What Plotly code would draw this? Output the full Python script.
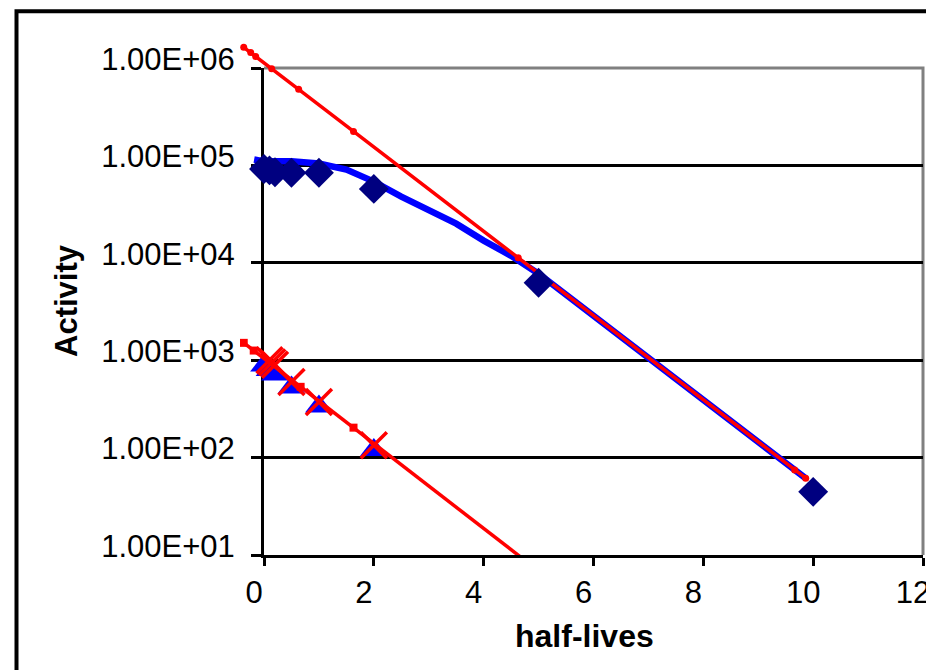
import plotly.graph_objects as go

# ---------------- data ----------------
# upper red fitted line (daughter, equilibrium)
fit_hi_x = [-0.369, -0.242, -0.151, 0.140, 0.631, 1.630, 4.629, 9.664, 9.864]
fit_hi_y = [1.63e6, 1.44e6, 1.31e6, 9.84e5, 6.04e5, 2.23e5, 1.13e4, 74.8, 61.5]

# thick blue curve
blue_x = [-0.18, 0, 0.5, 1, 1.5, 2, 2.5, 3, 3.5, 4, 4.5, 5, 6, 7, 8, 9, 9.86]
blue_y = [1.15e5, 1.10e5, 1.10e5, 1.045e5, 9.06e4, 6.82e4, 4.78e4, 3.52e4, 2.52e4,
          1.69e4, 1.18e4, 7.73e3, 2.86e3, 1.06e3, 391, 144, 61.5]

# navy diamonds
diam_x = [0, 0.1, 0.2, 0.5, 1, 2, 5, 10]
diam_y = [9.2e4, 8.9e4, 8.5e4, 8.4e4, 8.4e4, 5.74e4, 6.24e3, 44.5]

# blue triangles
tri_x = [0, 0.1, 0.2, 0.5, 1, 2]
tri_y = [880, 795, 712, 523, 334, 120]

# red crosses
cross_x = [0.1, 0.15, 0.2, 0.5, 1, 2]
cross_y = [1000, 950, 900, 598, 372, 134]

# lower red fitted line
fit_lo_x = [-0.369, -0.187, 0.667, 1.630, 4.847]
fit_lo_y = [1507, 1256, 533, 203, 8.0]

x_ticks = [0, 2, 4, 6, 8, 10, 12]
y_ticks = [1e1, 1e2, 1e3, 1e4, 1e5, 1e6]
y_ticktext = ["1.00E+01", "1.00E+02", "1.00E+03", "1.00E+04", "1.00E+05", "1.00E+06"]

# ---------------- layout geometry ----------------
W, H = 926, 670
ML, MR, MT, MB = 240, 3, 40, 115
PLOT_L, PLOT_T = 264, 68
paper_w = W - ML - MR
paper_h = H - MT - MB


def px_x(px):
    return (px - ML) / paper_w


def px_y(py):
    return (H - MB - py) / paper_h


x_dom = [px_x(PLOT_L), 1]
y_dom = [0, px_y(PLOT_T)]
X_RANGE = [0, 12]
Y_RANGE = [1, 6]
x_per_px = (X_RANGE[1] - X_RANGE[0]) / (paper_w * (x_dom[1] - x_dom[0]))
y_per_px = (Y_RANGE[1] - Y_RANGE[0]) / (paper_h * (y_dom[1] - y_dom[0]))
x2_range = [X_RANGE[0] - (PLOT_L - ML) * x_per_px, X_RANGE[1]]
y2_range = [Y_RANGE[0], Y_RANGE[1] + (PLOT_T - MT) * y_per_px]

FONT = "Liberation Sans, Arial, sans-serif"
RED = "#FF0000"
BLUE = "#0000FF"
NAVY = "#000080"

fig = go.Figure()
# empty trace so that the main (axes / grid) subplot is created
fig.add_trace(go.Scatter(x=[None], y=[None], xaxis="x", yaxis="y",
                         showlegend=False, hoverinfo="skip", mode="lines"))

common = dict(xaxis="x2", yaxis="y2", showlegend=False, hoverinfo="skip")

fig.add_trace(go.Scatter(x=blue_x, y=blue_y, mode="lines",
                         line=dict(color=BLUE, width=6.5), **common))
fig.add_trace(go.Scatter(x=tri_x, y=tri_y, mode="markers",
                         marker=dict(symbol="triangle-up", size=24, color=BLUE), **common))
fig.add_trace(go.Scatter(x=fit_lo_x, y=fit_lo_y, mode="lines+markers",
                         line=dict(color=RED, width=3.5),
                         marker=dict(symbol="square", size=8, color=RED), **common))
fig.add_trace(go.Scatter(x=fit_hi_x, y=fit_hi_y, mode="lines+markers",
                         line=dict(color=RED, width=3.5),
                         marker=dict(symbol="circle", size=7, color=RED), **common))
fig.add_trace(go.Scatter(x=cross_x, y=cross_y, mode="markers",
                         marker=dict(symbol="x-thin-open", size=26, color=RED,
                                     line=dict(color=RED, width=3.5)), **common))
fig.add_trace(go.Scatter(x=diam_x, y=diam_y, mode="markers",
                         marker=dict(symbol="diamond", size=23, color=NAVY), **common))

tickfont = dict(family=FONT, size=31, color="black")

fig.update_layout(
    template="none",
    width=W, height=H,
    margin=dict(l=ML, r=MR, t=MT, b=MB, pad=0, autoexpand=False),
    paper_bgcolor="white",
    plot_bgcolor="rgba(0,0,0,0)",
    showlegend=False,
    xaxis=dict(domain=x_dom, anchor="y", range=X_RANGE, tickvals=x_ticks,
               ticks="outside", ticklen=8, tickwidth=3, tickcolor="black",
               showline=True, linecolor="black", linewidth=3,
               showgrid=False, zeroline=False, tickfont=tickfont,
               ticklabelshift=-10, ticklabeloverflow="allow",
               automargin=False, fixedrange=True),
    yaxis=dict(domain=y_dom, anchor="x", type="log", range=Y_RANGE,
               tickvals=y_ticks, ticktext=y_ticktext,
               ticks="outside", ticklen=10, tickwidth=3, tickcolor="black",
               showline=True, linecolor="black", linewidth=3,
               showgrid=True, gridcolor="black", gridwidth=3,
               zeroline=False, tickfont=tickfont, ticklabelshift=-9,
               ticklabelstandoff=10, ticklabeloverflow="allow",
               automargin=False, fixedrange=True),
    xaxis2=dict(domain=[0, 1], anchor="y2", range=x2_range, visible=False,
                automargin=False, fixedrange=True),
    yaxis2=dict(domain=[0, 1], anchor="x2", type="log", range=y2_range,
                visible=False, automargin=False, fixedrange=True),
    shapes=[
        dict(type="path", xref="paper", yref="paper", layer="below",
             path=f"M {x_dom[0]} {y_dom[1]} L 1 {y_dom[1]} L 1 0",
             line=dict(color="#808080", width=3)),
        dict(type="rect", xref="paper", yref="paper", layer="below",
             x0=px_x(16.5), y0=px_y(720), x1=px_x(960), y1=px_y(11.3),
             line=dict(color="black", width=4)),
    ],
    annotations=[
        dict(text="<b>Activity</b>", xref="paper", yref="paper",
             x=px_x(66), y=px_y(301), showarrow=False, textangle=-90,
             font=dict(family=FONT, size=31, color="black"),
             xanchor="center", yanchor="middle"),
        dict(text="<b>half-lives</b>", xref="paper", yref="paper",
             x=px_x(584), y=px_y(636), showarrow=False,
             font=dict(family=FONT, size=32, color="black"),
             xanchor="center", yanchor="middle"),
    ],
)

fig.write_html("out.html", config={"displayModeBar": False},
               post_script="document.body.style.margin='0';")
